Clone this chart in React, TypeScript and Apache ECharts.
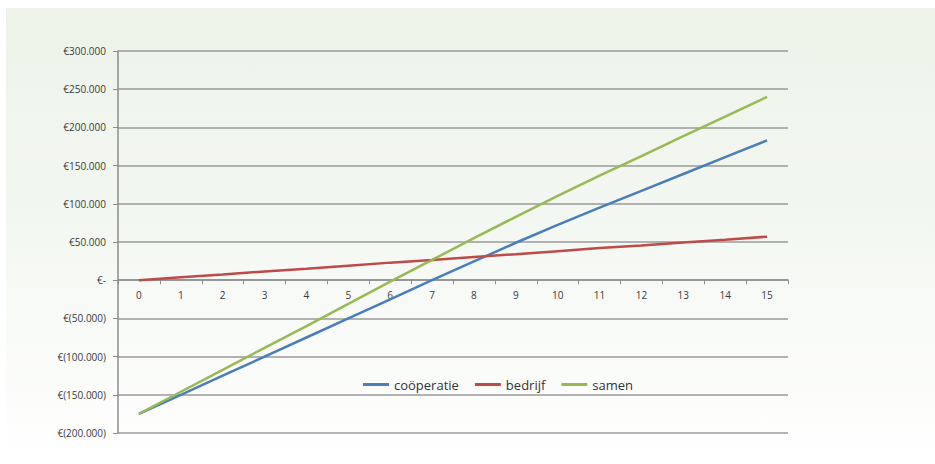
import React, { useEffect, useRef } from "react";
import * as echarts from "echarts";

const years = ["0", "1", "2", "3", "4", "5", "6", "7", "8", "9", "10", "11", "12", "13", "14", "15"];
const cooperatie = [-175000, -150000, -125000, -100000, -75000, -50000, -25000, 0, 24500, 49000, 72500, 95000, 117000, 139000, 161000, 183000];
const bedrijf = [0, 4000, 7500, 11500, 15000, 19000, 23000, 26500, 30500, 34000, 38000, 42000, 45500, 49500, 53000, 57000];
const samen = [-175000, -146000, -117500, -88500, -60000, -31000, -2000, 26500, 55000, 83000, 110500, 137000, 162500, 188500, 214000, 240000];
const seriesNames = ["coöperatie", "bedrijf", "samen"];
const seriesColors = ["#4a7ebb", "#be4b48", "#98b954"];
const yMin = -200000;
const yMax = 300000;

function fmt(v: number): string {
  if (v === 0) return "€-";
  const abs = Math.abs(v).toString().replace(/\B(?=(\d{3})+(?!\d))/g, ".");
  return v < 0 ? "€(" + abs + ")" : "€" + abs;
}

export default function App() {
  const ref = useRef<HTMLDivElement>(null);
  useEffect(() => {
    document.body.style.margin = "0";
    const chart = echarts.init(ref.current!, null, { renderer: "svg" });
    const data = [cooperatie, bedrijf, samen];
    const top = 51;
    const bottom = 31;
    const gridH = 464 - top - bottom;
    const zeroOffset = -(gridH * (0 - yMin)) / (yMax - yMin);
    chart.setOption({
      animation: false,
      backgroundColor: "transparent",
      textStyle: { fontFamily: "Open Sans" },
      grid: { left: 118, right: 147, top, bottom },
      legend: {
        left: 358,
        top: 373,
        icon: "rect",
        itemWidth: 26,
        itemHeight: 3,
        itemGap: 16,
        textStyle: { fontSize: 13, color: "#333", fontFamily: "Open Sans" },
        data: seriesNames,
      },
      xAxis: {
        type: "category",
        data: years,
        boundaryGap: true,
        position: "bottom",
        offset: zeroOffset,
        axisLine: { onZero: false, lineStyle: { color: "#8c8c8c", width: 1.5 } },
        axisTick: { show: true, length: 4, lineStyle: { color: "#8c8c8c" } },
        axisLabel: { color: "#3a3a3a", fontSize: 10, margin: 10 },
        splitLine: { show: false },
      },
      yAxis: {
        type: "value",
        min: yMin,
        max: yMax,
        interval: 50000,
        axisLine: { show: true, onZero: false, lineStyle: { color: "#8c8c8c", width: 1.5 } },
        axisTick: { show: true, length: 5, lineStyle: { color: "#8c8c8c" } },
        axisLabel: { color: "#3a3a3a", fontSize: 10, margin: 12, formatter: fmt },
        splitLine: { show: true, lineStyle: { color: "#9a9a9a", width: 1.5 } },
      },
      series: seriesNames.map((n, i) => ({
        name: n,
        type: "line",
        data: data[i],
        showSymbol: false,
        symbol: "none",
        color: seriesColors[i],
        lineStyle: { width: 2.5, color: seriesColors[i] },
      })),
    });
    return () => chart.dispose();
  }, []);
  return (
    <div style={{ position: "relative", width: 935, height: 464, background: "#fff" }}>
      <div
        style={{
          position: "absolute",
          left: 6,
          top: 8,
          right: 0,
          bottom: 0,
          background: "linear-gradient(to bottom, #edf3e9 0%, #f3f7f1 45%, #ffffff 100%)",
        }}
      />
      <div ref={ref} style={{ position: "absolute", left: 0, top: 0, width: 935, height: 464 }} />
    </div>
  );
}
